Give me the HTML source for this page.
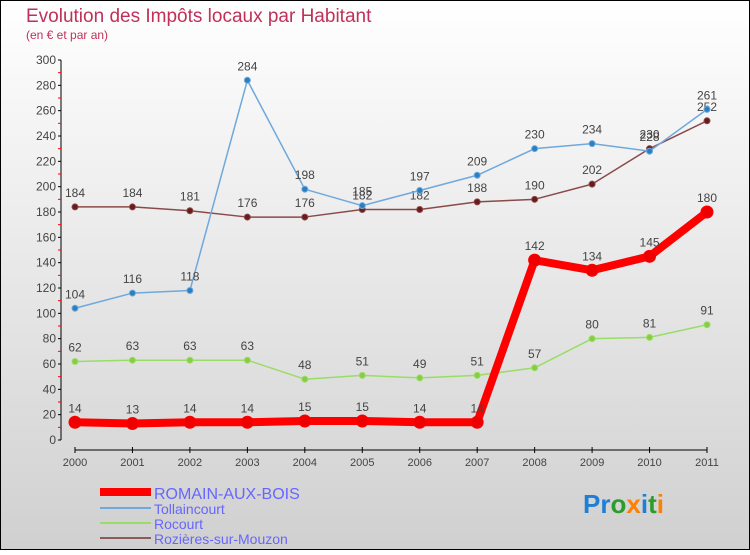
<!DOCTYPE html>
<html><head><meta charset="utf-8"><style>
body{margin:0;}
#c{width:750px;height:550px;position:relative;font-family:"Liberation Sans",sans-serif;}
</style></head><body>
<div id="c">
<svg id="s" width="750" height="550" xmlns="http://www.w3.org/2000/svg">
<defs><linearGradient id="bg" x1="0" y1="0" x2="0" y2="1"><stop offset="0" stop-color="#ffffff"/><stop offset="1" stop-color="#d0d0d0"/></linearGradient></defs>
<rect x="0.5" y="0.5" width="749" height="549" fill="url(#bg)" stroke="#000"/>
<text x="26" y="22" font-size="19" fill="#c0305a">Evolution des Impôts locaux par Habitant</text>
<text x="26" y="39" font-size="12" fill="#c0305a">(en € et par an)</text>
<g id="axes"></g><g id="series"></g>
<g>
<line x1="100" y1="492" x2="151" y2="492" stroke="#ff0000" stroke-width="8"/>
<text x="154" y="499" font-size="16" fill="#6666ff">ROMAIN-AUX-BOIS</text>
<line x1="100" y1="508" x2="151" y2="508" stroke="#6fa8dc" stroke-width="2"/>
<text x="154" y="514" font-size="14" fill="#6666ff">Tollaincourt</text>
<line x1="100" y1="523" x2="151" y2="523" stroke="#99dd66" stroke-width="2"/>
<text x="154" y="529" font-size="14" fill="#6666ff">Rocourt</text>
<line x1="100" y1="538" x2="151" y2="538" stroke="#8b5a5a" stroke-width="2"/>
<text x="154" y="544" font-size="14" fill="#6666ff">Rozières-sur-Mouzon</text>
</g>
<text x="583" y="513" font-size="26" font-weight="bold"><tspan fill="#1e7fd6">Pr</tspan><tspan fill="#2a9d2a">o</tspan><tspan fill="#ff7f00">x</tspan><tspan fill="#1e7fd6">i</tspan><tspan fill="#2a9d2a">t</tspan><tspan fill="#ff7f00">i</tspan></text>
</svg></div>
<script>
const years=[2000,2001,2002,2003,2004,2005,2006,2007,2008,2009,2010,2011];
const yTicks=[0,20,40,60,80,100,120,140,160,180,200,220,240,260,280,300];
const romain=[14,13,14,14,15,15,14,14,142,134,145,180];
const tollaincourt=[104,116,118,284,198,185,197,209,230,234,228,261];
const rocourt=[62,63,63,63,48,51,49,51,57,80,81,91];
const rozieres=[184,184,181,176,176,182,182,188,190,202,230,252];
const NS="http://www.w3.org/2000/svg";
function X(i){return 75+i*(707-75)/11;}
function Y(v){return 440-v*380/300;}
function mk(t,a,p){const e=document.createElementNS(NS,t);for(const k in a)e.setAttribute(k,a[k]);p.appendChild(e);return e;}
const ax=document.getElementById('axes');
const yl=mk('line',{x1:61,y1:60,x2:61,y2:440,stroke:'#000'},ax);


yTicks.forEach(v=>{
  mk('line',{x1:58,x2:61,y1:Y(v),y2:Y(v),stroke:'#000'},ax);
  if(v<300)mk('line',{x1:58,x2:61,y1:Y(v+10),y2:Y(v+10),stroke:'#f00'},ax);
  const t=mk('text',{x:56,y:Y(v)+4,'font-size':12,fill:'#444','text-anchor':'end'},ax);
  t.textContent=v;
  
  
});
const xl=mk('line',{x1:75,y1:450,x2:707,y2:450,stroke:'#000'},ax);


years.forEach((y,i)=>{
  mk('line',{x1:X(i),x2:X(i),y1:447,y2:453,stroke:'#000'},ax);
  const t=mk('text',{x:X(i),y:466,'font-size':11,fill:'#444','text-anchor':'middle'},ax);
  t.textContent=y;
  
  
});
const sg=document.getElementById('series');
function draw(vals,color,w,r,name,dot){
  const g=mk('g',{},sg);
  
  
  mk('polyline',{points:vals.map((v,i)=>X(i)+','+Y(v)).join(' '),fill:'none',stroke:color,'stroke-width':w,'stroke-linejoin':'round'},g);
  vals.forEach((v,i)=>{
    const c=mk('circle',{cx:X(i),cy:Y(v),r:r,fill:dot,stroke:color,'stroke-width':1},g);
    
    
    const t=mk('text',{x:X(i),y:Y(v)-10,'font-size':12,fill:'#444','text-anchor':'middle'},g);
    t.textContent=v;
  });
}
draw(rocourt,'#99dd66',1.5,3,'rocourt','#88cc44');
draw(rozieres,'#8b4a4a',1.5,3,'rozieres','#6a1a1a');
draw(tollaincourt,'#6fa8dc',1.5,3,'tollaincourt','#2a7fc0');
draw(romain,'#ff0000',8,6,'romain','#ee0000');
</script>
</body></html>
